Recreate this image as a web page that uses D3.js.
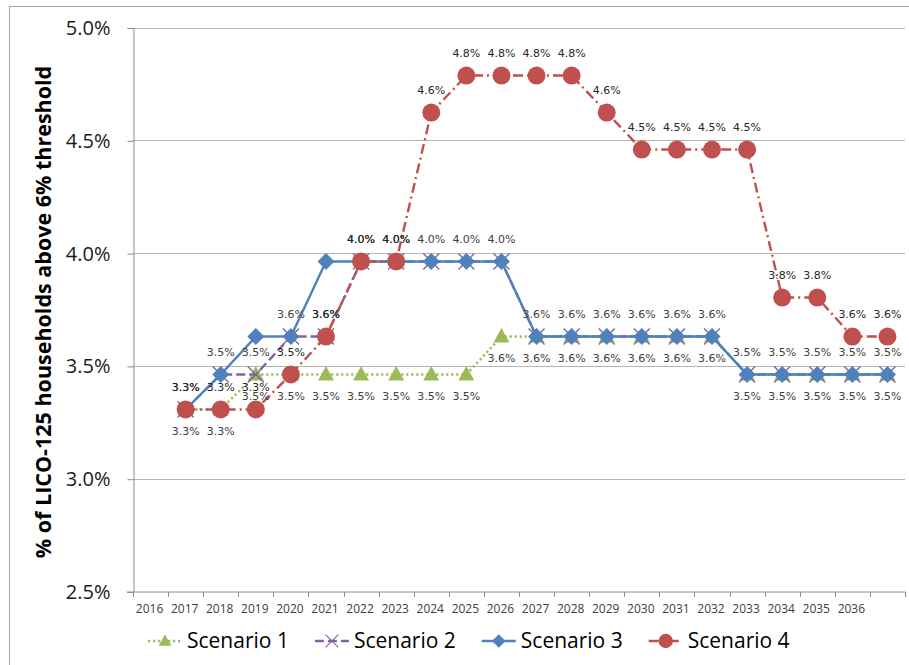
<!DOCTYPE html>
<html>
<head>
<meta charset="utf-8">
<script src="https://cdn.jsdelivr.net/npm/d3@7"></script>
<style>
  html, body { margin: 0; padding: 0; background: #fff; }
  svg { display: block; }
</style>
</head>
<body>
<svg id="chart" width="909" height="665"></svg>
<script>
// Category axis: 2016–2036 plus one trailing unlabeled slot
const years = ["2016","2017","2018","2019","2020","2021","2022","2023","2024","2025","2026",
               "2027","2028","2029","2030","2031","2032","2033","2034","2035","2036",""];

// Share of LICO-125 households above the 6% threshold (percent), per scenario
const scenario1 = [null, 3.307, 3.307, 3.462, 3.462, 3.462, 3.462, 3.462, 3.462, 3.462, 3.630,
                   3.630, 3.630, 3.630, 3.630, 3.630, 3.630, 3.462, 3.462, 3.462, 3.462, 3.462];
const scenario2 = [null, 3.307, 3.462, 3.462, 3.630, 3.630, 3.963, 3.963, 3.963, 3.963, 3.963,
                   3.630, 3.630, 3.630, 3.630, 3.630, 3.630, 3.462, 3.462, 3.462, 3.462, 3.462];
const scenario3 = [null, 3.307, 3.462, 3.630, 3.630, 3.963, 3.963, 3.963, 3.963, 3.963, 3.963,
                   3.630, 3.630, 3.630, 3.630, 3.630, 3.630, 3.462, 3.462, 3.462, 3.462, 3.462];
const scenario4 = [null, 3.307, 3.307, 3.307, 3.462, 3.630, 3.963, 3.963, 4.623, 4.787, 4.787,
                   4.787, 4.787, 4.623, 4.459, 4.459, 4.459, 4.459, 3.803, 3.803, 3.630, 3.630];

const seriesNames = ["Scenario 1", "Scenario 2", "Scenario 3", "Scenario 4"];
const yTicks = [2.5, 3.0, 3.5, 4.0, 4.5, 5.0];
const yTitle = "% of LICO-125 households above 6% threshold";

const series = [
  { name: seriesNames[0], values: scenario1, color: "#9BBB59", dash: "2.2,2.8", marker: "triangle", label: "below" },
  { name: seriesNames[1], values: scenario2, color: "#8064A2", dash: "9,4",     marker: "cross",    label: "above" },
  { name: seriesNames[2], values: scenario3, color: "#4F81BD", dash: null,      marker: "diamond",  label: null },
  { name: seriesNames[3], values: scenario4, color: "#C0504D", dash: "10,4,2,4", marker: "circle",  label: "above" }
];

const svg = d3.select("#chart");
const plot = { left: 133, right: 905, top: 27.5, bottom: 591.5 };

// Outer chart frame
svg.append("rect")
  .attr("x", 9.5).attr("y", 6.5).attr("width", 920).attr("height", 700)
  .attr("fill", "none").attr("stroke", "#a6a6a6").attr("stroke-width", 1);

const x = d3.scaleBand().domain(d3.range(years.length)).range([plot.left, plot.right]);
const cx = i => x(i) + x.bandwidth() / 2;
const y = d3.scaleLinear().domain([2.5, 5.0]).range([plot.bottom, plot.top]);

// Horizontal gridlines
svg.append("g")
  .selectAll("line")
  .data(yTicks.filter(t => t > 2.5))
  .join("line")
  .attr("x1", plot.left).attr("x2", plot.right)
  .attr("y1", d => Math.round(y(d)) + 0.5).attr("y2", d => Math.round(y(d)) + 0.5)
  .attr("stroke", "#b4b4b4").attr("stroke-width", 1);

// Y axis
const yAxis = d3.axisLeft(y).tickValues(yTicks).tickSize(6).tickPadding(17)
  .tickFormat(d => d.toFixed(1) + "%");
const gy = svg.append("g").attr("transform", `translate(${plot.left + 0.5},0.5)`).call(yAxis);
gy.select(".domain").attr("stroke", "#8c8c8c");
gy.selectAll(".tick line").attr("stroke", "#8c8c8c");
gy.selectAll(".tick text")
  .attr("font-family", "'Open Sans', sans-serif").attr("font-size", 20).attr("fill", "#1a1a1a");

// X axis: ticks on category boundaries, labels centred in each category
const gx = svg.append("g").attr("transform", `translate(0,${plot.bottom + 0.5})`);
gx.append("line").attr("x1", plot.left - 6).attr("x2", plot.right)
  .attr("y1", 0).attr("y2", 0).attr("stroke", "#8c8c8c");
gx.selectAll("line.tick")
  .data(d3.range(years.length + 1))
  .join("line").attr("class", "tick")
  .attr("x1", i => Math.round(plot.left + i * x.bandwidth()) + 0.5)
  .attr("x2", i => Math.round(plot.left + i * x.bandwidth()) + 0.5)
  .attr("y1", 0).attr("y2", 5).attr("stroke", "#8c8c8c");
gx.selectAll("text")
  .data(years.map((t, i) => ({ t, i })))
  .join("text")
  .attr("x", d => cx(d.i) - 1).attr("y", 21)
  .attr("text-anchor", "middle")
  .attr("font-family", "'Open Sans', sans-serif").attr("font-size", 12)
  .attr("fill", "#404040")
  .text(d => d.t);

// Y axis title
svg.append("text")
  .attr("transform", "translate(51,312) rotate(-90)")
  .attr("text-anchor", "middle")
  .attr("font-family", "'Open Sans', sans-serif").attr("font-weight", "bold")
  .attr("font-size", 21.5).attr("fill", "#000")
  .text(yTitle);

// Marker shapes
function drawMarker(g, type, color) {
  if (type === "triangle") {
    g.append("path").attr("d", "M0,-8.5L8,6L-8,6Z").attr("fill", color);
  } else if (type === "cross") {
    g.append("path").attr("d", "M-8,-8L8,8M-8,8L8,-8")
      .attr("stroke", color).attr("stroke-width", 1.4).attr("fill", "none");
  } else if (type === "diamond") {
    g.append("path").attr("d", "M0,-8.5L8.5,0L0,8.5L-8.5,0Z").attr("fill", color);
  } else if (type === "circle") {
    g.append("circle").attr("r", 9).attr("fill", color);
  }
}

const line = d3.line()
  .defined(d => d.v != null)
  .x(d => cx(d.i))
  .y(d => y(d.v));

const seriesLayer = svg.append("g");
series.forEach(s => {
  const pts = s.values.map((v, i) => ({ v, i }));
  const g = seriesLayer.append("g");
  g.append("path")
    .datum(pts)
    .attr("d", line)
    .attr("fill", "none")
    .attr("stroke", s.color)
    .attr("stroke-width", 2.4)
    .attr("stroke-dasharray", s.dash)
    .attr("stroke-linejoin", "round");
  pts.filter(p => p.v != null).forEach(p => {
    const m = g.append("g").attr("transform", `translate(${cx(p.i)},${y(p.v)})`);
    drawMarker(m, s.marker, s.color);
  });
});

// Data labels sit above everything
const labelLayer = svg.append("g");
series.forEach(s => {
  if (!s.label) return;
  s.values.forEach((v, i) => {
    if (v == null) return;
    labelLayer.append("text")
      .attr("x", cx(i))
      .attr("y", y(v) + (s.label === "above" ? -22 : 22))
      .attr("dy", "0.35em")
      .attr("text-anchor", "middle")
      .attr("font-family", "'DejaVu Sans', sans-serif")
      .attr("font-size", 11)
      .attr("fill", s.marker === "circle" ? "#262626" : "#404040")
      .text(v.toFixed(1) + "%");
  });
});

// Legend
const legend = svg.append("g").attr("transform", "translate(148,641)");
let lx = 0;
series.forEach(s => {
  const item = legend.append("g").attr("transform", `translate(${lx},0)`);
  item.append("line").attr("x1", 0).attr("x2", 34).attr("y1", 0).attr("y2", 0)
    .attr("stroke", s.color).attr("stroke-width", 2.4).attr("stroke-dasharray", s.dash);
  const m = item.append("g").attr("transform", "translate(17,0) scale(0.8)");
  drawMarker(m, s.marker, s.color);
  const t = item.append("text").attr("x", 39).attr("y", 0).attr("dy", "0.35em")
    .attr("font-family", "'Open Sans', sans-serif").attr("font-size", 21).attr("fill", "#000")
    .text(s.name);
  lx += 39 + t.node().getComputedTextLength() + 26;
});
</script>
</body>
</html>
